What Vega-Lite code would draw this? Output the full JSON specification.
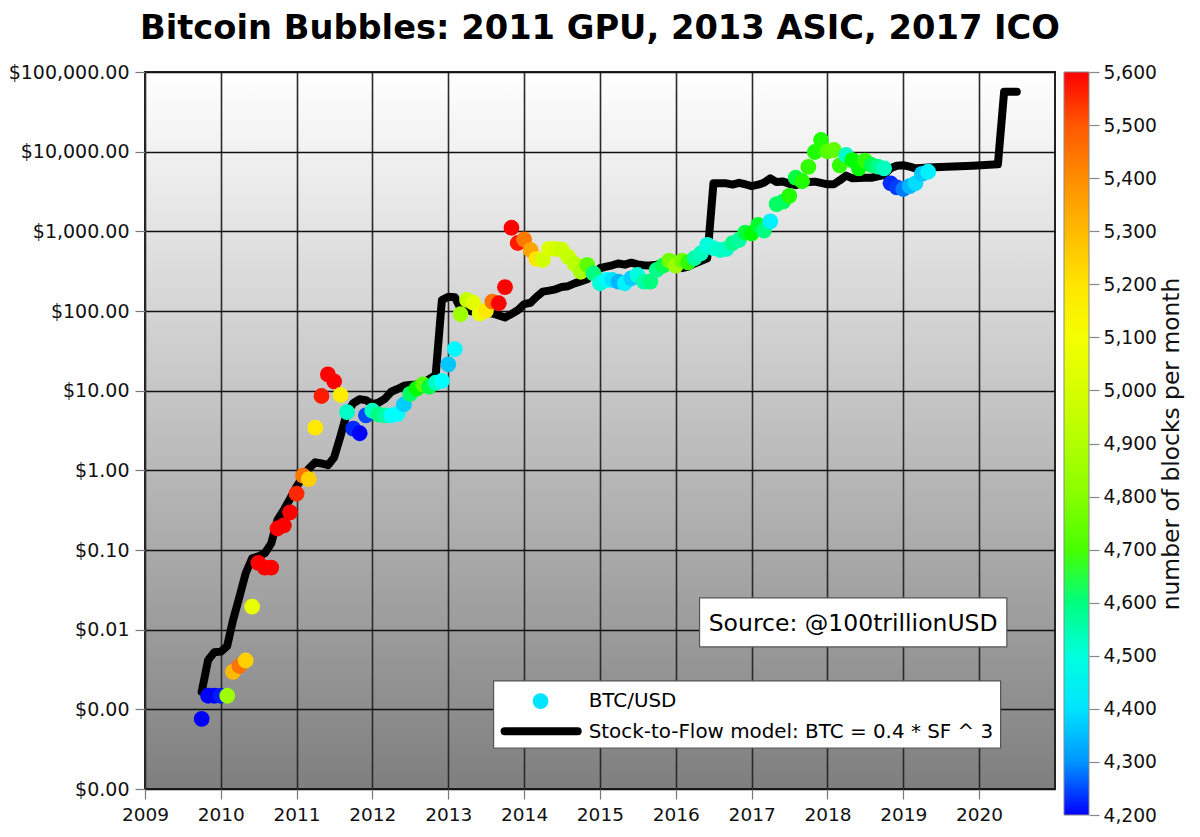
{
  "$schema": "https://vega.github.io/schema/vega-lite/v6.json",
  "description": "Bitcoin price against the stock-to-flow model, coloured by blocks per month.",
  "width": 910,
  "height": 717,
  "autosize": {"type": "none"},
  "padding": {"left": 145, "top": 72, "right": 145, "bottom": 48},
  "background": "white",
  "view": {
    "stroke": "#222222",
    "strokeWidth": 2,
    "fill": {
      "gradient": "linear",
      "x1": 0, "y1": 0, "x2": 0, "y2": 1,
      "stops": [
        {"offset": 0, "color": "#ffffff"},
        {"offset": 1, "color": "#7f7f7f"}
      ]
    }
  },
  "config": {
    "font": "DejaVu Sans",
    "text": {"font": "DejaVu Sans"}
  },
  "title": {
    "text": "Bitcoin Bubbles: 2011 GPU, 2013 ASIC, 2017 ICO",
    "font": "DejaVu Sans",
    "fontSize": 33.7,
    "fontWeight": "bold",
    "color": "#000000",
    "anchor": "middle",
    "offset": 17
  },
  "datasets": {
    "btc": [
      {"date": "2009-10-01", "price": 0.00076, "blocks": 4200},
      {"date": "2009-11-01", "price": 0.00148, "blocks": 4200},
      {"date": "2009-12-01", "price": 0.00148, "blocks": 4200},
      {"date": "2010-01-01", "price": 0.00148, "blocks": 4205},
      {"date": "2010-02-01", "price": 0.00148, "blocks": 4850},
      {"date": "2010-03-01", "price": 0.00295, "blocks": 5300},
      {"date": "2010-04-01", "price": 0.0035, "blocks": 5450},
      {"date": "2010-05-01", "price": 0.0041, "blocks": 5250},
      {"date": "2010-06-01", "price": 0.0195, "blocks": 5060},
      {"date": "2010-07-01", "price": 0.069, "blocks": 5590},
      {"date": "2010-08-01", "price": 0.06, "blocks": 5590},
      {"date": "2010-09-01", "price": 0.06, "blocks": 5590},
      {"date": "2010-10-01", "price": 0.186, "blocks": 5590},
      {"date": "2010-11-01", "price": 0.204, "blocks": 5590},
      {"date": "2010-12-01", "price": 0.297, "blocks": 5580},
      {"date": "2011-01-01", "price": 0.51, "blocks": 5560},
      {"date": "2011-02-01", "price": 0.857, "blocks": 5450},
      {"date": "2011-03-01", "price": 0.775, "blocks": 5250},
      {"date": "2011-04-01", "price": 3.43, "blocks": 5190},
      {"date": "2011-05-01", "price": 8.57, "blocks": 5570},
      {"date": "2011-06-01", "price": 16, "blocks": 5590},
      {"date": "2011-07-01", "price": 13.1, "blocks": 5590},
      {"date": "2011-08-01", "price": 8.83, "blocks": 5180},
      {"date": "2011-09-01", "price": 5.37, "blocks": 4530},
      {"date": "2011-10-01", "price": 3.33, "blocks": 4210},
      {"date": "2011-11-01", "price": 2.92, "blocks": 4200},
      {"date": "2011-12-01", "price": 4.9, "blocks": 4230},
      {"date": "2012-01-01", "price": 5.6, "blocks": 4540},
      {"date": "2012-02-01", "price": 5.0, "blocks": 4600},
      {"date": "2012-03-01", "price": 4.9, "blocks": 4570},
      {"date": "2012-04-01", "price": 4.9, "blocks": 4450},
      {"date": "2012-05-01", "price": 5.1, "blocks": 4440},
      {"date": "2012-06-01", "price": 6.7, "blocks": 4370},
      {"date": "2012-07-01", "price": 9.1, "blocks": 4620},
      {"date": "2012-08-01", "price": 10.6, "blocks": 4660},
      {"date": "2012-09-01", "price": 12, "blocks": 4720},
      {"date": "2012-10-01", "price": 11.2, "blocks": 4640},
      {"date": "2012-11-01", "price": 12.6, "blocks": 4540},
      {"date": "2012-12-01", "price": 13.3, "blocks": 4440},
      {"date": "2013-01-01", "price": 21.4, "blocks": 4360},
      {"date": "2013-02-01", "price": 33.3, "blocks": 4430},
      {"date": "2013-03-01", "price": 91, "blocks": 4850},
      {"date": "2013-04-01", "price": 138, "blocks": 4950},
      {"date": "2013-05-01", "price": 127, "blocks": 5040},
      {"date": "2013-06-01", "price": 93, "blocks": 5070},
      {"date": "2013-07-01", "price": 101, "blocks": 5190},
      {"date": "2013-08-01", "price": 131, "blocks": 5450},
      {"date": "2013-09-01", "price": 125, "blocks": 5590},
      {"date": "2013-10-01", "price": 199, "blocks": 5590},
      {"date": "2013-11-01", "price": 1110, "blocks": 5590},
      {"date": "2013-12-01", "price": 714, "blocks": 5570},
      {"date": "2014-01-01", "price": 794, "blocks": 5440},
      {"date": "2014-02-01", "price": 583, "blocks": 5350},
      {"date": "2014-03-01", "price": 450, "blocks": 5200},
      {"date": "2014-04-01", "price": 437, "blocks": 4990},
      {"date": "2014-05-01", "price": 603, "blocks": 5020},
      {"date": "2014-06-01", "price": 603, "blocks": 5000},
      {"date": "2014-07-01", "price": 589, "blocks": 4970},
      {"date": "2014-08-01", "price": 481, "blocks": 4960},
      {"date": "2014-09-01", "price": 389, "blocks": 4920},
      {"date": "2014-10-01", "price": 311, "blocks": 4880},
      {"date": "2014-11-01", "price": 380, "blocks": 4730},
      {"date": "2014-12-01", "price": 297, "blocks": 4600},
      {"date": "2015-01-01", "price": 223, "blocks": 4510},
      {"date": "2015-02-01", "price": 245, "blocks": 4450},
      {"date": "2015-03-01", "price": 245, "blocks": 4400},
      {"date": "2015-04-01", "price": 234, "blocks": 4340},
      {"date": "2015-05-01", "price": 223, "blocks": 4420},
      {"date": "2015-06-01", "price": 257, "blocks": 4370},
      {"date": "2015-07-01", "price": 283, "blocks": 4500},
      {"date": "2015-08-01", "price": 234, "blocks": 4560},
      {"date": "2015-09-01", "price": 234, "blocks": 4600},
      {"date": "2015-10-01", "price": 327, "blocks": 4590},
      {"date": "2015-11-01", "price": 372, "blocks": 4630},
      {"date": "2015-12-01", "price": 428, "blocks": 4760},
      {"date": "2016-01-01", "price": 371, "blocks": 4850},
      {"date": "2016-02-01", "price": 428, "blocks": 4760},
      {"date": "2016-03-01", "price": 407, "blocks": 4680},
      {"date": "2016-04-01", "price": 459, "blocks": 4570},
      {"date": "2016-05-01", "price": 530, "blocks": 4540},
      {"date": "2016-06-01", "price": 676, "blocks": 4500},
      {"date": "2016-07-01", "price": 617, "blocks": 4510},
      {"date": "2016-08-01", "price": 583, "blocks": 4530},
      {"date": "2016-09-01", "price": 600, "blocks": 4530},
      {"date": "2016-10-01", "price": 708, "blocks": 4590},
      {"date": "2016-11-01", "price": 778, "blocks": 4570},
      {"date": "2016-12-01", "price": 962, "blocks": 4640},
      {"date": "2017-01-01", "price": 944, "blocks": 4660},
      {"date": "2017-02-01", "price": 1200, "blocks": 4650},
      {"date": "2017-03-01", "price": 1020, "blocks": 4600},
      {"date": "2017-04-01", "price": 1337, "blocks": 4420},
      {"date": "2017-05-01", "price": 2200, "blocks": 4620},
      {"date": "2017-06-01", "price": 2355, "blocks": 4620},
      {"date": "2017-07-01", "price": 2780, "blocks": 4670},
      {"date": "2017-08-01", "price": 4710, "blocks": 4640},
      {"date": "2017-09-01", "price": 4250, "blocks": 4670},
      {"date": "2017-10-01", "price": 6430, "blocks": 4680},
      {"date": "2017-11-01", "price": 9910, "blocks": 4670},
      {"date": "2017-12-01", "price": 14000, "blocks": 4670},
      {"date": "2018-01-01", "price": 10100, "blocks": 4720},
      {"date": "2018-02-01", "price": 10500, "blocks": 4730},
      {"date": "2018-03-01", "price": 6745, "blocks": 4680},
      {"date": "2018-04-01", "price": 9080, "blocks": 4530},
      {"date": "2018-05-01", "price": 7850, "blocks": 4660},
      {"date": "2018-06-01", "price": 6180, "blocks": 4660},
      {"date": "2018-07-01", "price": 7700, "blocks": 4680},
      {"date": "2018-08-01", "price": 6800, "blocks": 4630},
      {"date": "2018-09-01", "price": 6490, "blocks": 4590},
      {"date": "2018-10-01", "price": 6180, "blocks": 4540},
      {"date": "2018-11-01", "price": 4010, "blocks": 4210},
      {"date": "2018-12-01", "price": 3570, "blocks": 4220},
      {"date": "2019-01-01", "price": 3400, "blocks": 4270},
      {"date": "2019-02-01", "price": 3700, "blocks": 4340},
      {"date": "2019-03-01", "price": 4010, "blocks": 4390},
      {"date": "2019-04-01", "price": 5250, "blocks": 4360},
      {"date": "2019-05-01", "price": 5600, "blocks": 4420}
    ],
    "model": [
      {"date": "2009-10-01", "price": 0.00166},
      {"date": "2009-11-01", "price": 0.00417},
      {"date": "2009-12-01", "price": 0.0052},
      {"date": "2010-01-01", "price": 0.0053},
      {"date": "2010-02-01", "price": 0.00624},
      {"date": "2010-03-01", "price": 0.0132},
      {"date": "2010-04-01", "price": 0.0259},
      {"date": "2010-05-01", "price": 0.051},
      {"date": "2010-06-01", "price": 0.0787},
      {"date": "2010-07-01", "price": 0.083},
      {"date": "2010-08-01", "price": 0.091},
      {"date": "2010-09-01", "price": 0.121},
      {"date": "2010-10-01", "price": 0.238},
      {"date": "2010-11-01", "price": 0.32},
      {"date": "2010-12-01", "price": 0.44},
      {"date": "2011-01-01", "price": 0.624},
      {"date": "2011-02-01", "price": 0.83},
      {"date": "2011-03-01", "price": 1.05},
      {"date": "2011-04-01", "price": 1.26},
      {"date": "2011-05-01", "price": 1.22},
      {"date": "2011-06-01", "price": 1.16},
      {"date": "2011-07-01", "price": 1.45},
      {"date": "2011-08-01", "price": 2.7},
      {"date": "2011-09-01", "price": 5.3},
      {"date": "2011-10-01", "price": 6.95},
      {"date": "2011-11-01", "price": 7.8},
      {"date": "2011-12-01", "price": 7.6},
      {"date": "2012-01-01", "price": 6.76},
      {"date": "2012-02-01", "price": 7.1},
      {"date": "2012-03-01", "price": 7.9},
      {"date": "2012-04-01", "price": 9.7},
      {"date": "2012-05-01", "price": 10.5},
      {"date": "2012-06-01", "price": 11.5},
      {"date": "2012-07-01", "price": 11.8},
      {"date": "2012-08-01", "price": 12},
      {"date": "2012-09-01", "price": 12.5},
      {"date": "2012-10-01", "price": 14},
      {"date": "2012-11-01", "price": 15.7},
      {"date": "2012-12-01", "price": 137},
      {"date": "2013-01-01", "price": 151},
      {"date": "2013-02-01", "price": 149},
      {"date": "2013-03-01", "price": 108},
      {"date": "2013-04-01", "price": 102},
      {"date": "2013-05-01", "price": 98},
      {"date": "2013-06-01", "price": 96},
      {"date": "2013-07-01", "price": 95},
      {"date": "2013-08-01", "price": 93},
      {"date": "2013-09-01", "price": 88},
      {"date": "2013-10-01", "price": 83},
      {"date": "2013-11-01", "price": 92},
      {"date": "2013-12-01", "price": 102},
      {"date": "2014-01-01", "price": 122},
      {"date": "2014-02-01", "price": 127},
      {"date": "2014-03-01", "price": 150},
      {"date": "2014-04-01", "price": 175},
      {"date": "2014-05-01", "price": 180},
      {"date": "2014-06-01", "price": 187},
      {"date": "2014-07-01", "price": 200},
      {"date": "2014-08-01", "price": 205},
      {"date": "2014-09-01", "price": 222},
      {"date": "2014-10-01", "price": 235},
      {"date": "2014-11-01", "price": 250},
      {"date": "2014-12-01", "price": 295},
      {"date": "2015-01-01", "price": 344},
      {"date": "2015-02-01", "price": 360},
      {"date": "2015-03-01", "price": 375},
      {"date": "2015-04-01", "price": 395},
      {"date": "2015-05-01", "price": 382},
      {"date": "2015-06-01", "price": 404},
      {"date": "2015-07-01", "price": 385},
      {"date": "2015-08-01", "price": 375},
      {"date": "2015-09-01", "price": 372},
      {"date": "2015-10-01", "price": 380},
      {"date": "2015-11-01", "price": 392},
      {"date": "2015-12-01", "price": 398},
      {"date": "2016-01-01", "price": 380},
      {"date": "2016-02-01", "price": 345},
      {"date": "2016-03-01", "price": 360},
      {"date": "2016-04-01", "price": 395},
      {"date": "2016-05-01", "price": 425},
      {"date": "2016-06-01", "price": 459},
      {"date": "2016-07-01", "price": 4010},
      {"date": "2016-08-01", "price": 4010},
      {"date": "2016-09-01", "price": 4000},
      {"date": "2016-10-01", "price": 3860},
      {"date": "2016-11-01", "price": 4060},
      {"date": "2016-12-01", "price": 3900},
      {"date": "2017-01-01", "price": 3700},
      {"date": "2017-02-01", "price": 3850},
      {"date": "2017-03-01", "price": 4080},
      {"date": "2017-04-01", "price": 4630},
      {"date": "2017-05-01", "price": 4150},
      {"date": "2017-06-01", "price": 4230},
      {"date": "2017-07-01", "price": 3950},
      {"date": "2017-08-01", "price": 3800},
      {"date": "2017-09-01", "price": 4000},
      {"date": "2017-10-01", "price": 4150},
      {"date": "2017-11-01", "price": 4200},
      {"date": "2017-12-01", "price": 4050},
      {"date": "2018-01-01", "price": 3890},
      {"date": "2018-02-01", "price": 3900},
      {"date": "2018-03-01", "price": 4350},
      {"date": "2018-04-01", "price": 5010},
      {"date": "2018-05-01", "price": 4630},
      {"date": "2018-06-01", "price": 4680},
      {"date": "2018-07-01", "price": 4700},
      {"date": "2018-08-01", "price": 4710},
      {"date": "2018-09-01", "price": 4900},
      {"date": "2018-10-01", "price": 5090},
      {"date": "2018-11-01", "price": 6200},
      {"date": "2018-12-01", "price": 6670},
      {"date": "2019-01-01", "price": 6760},
      {"date": "2019-02-01", "price": 6500},
      {"date": "2019-03-01", "price": 6180},
      {"date": "2019-04-01", "price": 6250},
      {"date": "2019-05-01", "price": 6310},
      {"date": "2019-12-01", "price": 6650},
      {"date": "2020-04-01", "price": 6930},
      {"date": "2020-05-01", "price": 56600},
      {"date": "2020-07-01", "price": 56600}
    ],
    "boxes": [
      {"date": "2016-04-25", "end": "2020-05-14", "price": 0.025, "low": 0.00607},
      {"date": "2013-08-07", "end": "2020-04-14", "price": 0.00227, "low": 0.000327}
    ],
    "labels": [
      {"date": "2016-06-08", "price": 0.0118, "label": "Source: @100trillionUSD", "kind": "source"},
      {"date": "2014-11-08", "price": 0.00127, "label": "BTC/USD", "kind": "legend"},
      {"date": "2014-11-08", "price": 0.00052, "label": "Stock-to-Flow model: BTC = 0.4 * SF ^ 3", "kind": "legend"}
    ],
    "keyLine": [
      {"date": "2013-09-29", "price": 0.00053},
      {"date": "2014-09-16", "price": 0.00053}
    ],
    "keyDot": [
      {"date": "2014-03-21", "price": 0.00127}
    ]
  },
  "encoding": {
    "x": {
      "field": "date",
      "type": "temporal",
      "scale": {
        "domain": [
          {"year": 2009, "month": 1, "date": 1},
          {"year": 2021, "month": 1, "date": 1}
        ]
      },
      "axis": {
        "title": null,
        "format": "%Y",
        "values": [
          {"year": 2009, "month": 1, "date": 1},
          {"year": 2010, "month": 1, "date": 1},
          {"year": 2011, "month": 1, "date": 1},
          {"year": 2012, "month": 1, "date": 1},
          {"year": 2013, "month": 1, "date": 1},
          {"year": 2014, "month": 1, "date": 1},
          {"year": 2015, "month": 1, "date": 1},
          {"year": 2016, "month": 1, "date": 1},
          {"year": 2017, "month": 1, "date": 1},
          {"year": 2018, "month": 1, "date": 1},
          {"year": 2019, "month": 1, "date": 1},
          {"year": 2020, "month": 1, "date": 1}
        ],
        "grid": true,
        "gridColor": "#2a2a2a",
        "gridWidth": 1.6,
        "gridOpacity": 1,
        "domain": false,
        "tickColor": "#777777",
        "tickSize": 10,
        "tickWidth": 1.2,
        "labelFontSize": 18.5,
        "labelColor": "#111111",
        "labelPadding": 6,
        "labelFlush": false,
        "labelOverlap": false
      }
    }
  },
  "layer": [
    {
      "encoding": {
        "y": {
          "field": "price",
          "type": "quantitative",
          "scale": {"type": "log", "domain": [0.0001, 100000], "nice": false},
          "axis": {
            "title": null,
            "format": "$,.2f",
            "values": [0.0001, 0.001, 0.01, 0.1, 1, 10, 100, 1000, 10000, 100000],
            "grid": true,
            "gridColor": "#111111",
            "gridWidth": 1.4,
            "gridOpacity": 1,
            "domain": false,
            "tickColor": "#777777",
            "tickSize": 10,
            "tickWidth": 1.2,
            "labelFontSize": 19,
            "labelColor": "#111111",
            "labelPadding": 6,
            "labelFlush": false,
            "labelOverlap": false
          }
        }
      },
      "layer": [
        {
          "data": {"name": "model"},
          "mark": {"type": "line", "color": "#000000", "strokeWidth": 8, "strokeJoin": "round", "strokeCap": "round"}
        },
        {
          "data": {"name": "btc"},
          "mark": {"type": "circle", "size": 250, "opacity": 1},
          "encoding": {
            "color": {
              "field": "blocks",
              "type": "quantitative",
              "scale": {
                "domain": [4200, 4440, 4660, 5136, 5580, 5600],
                "range": ["#0000ff", "#00ffff", "#00ff00", "#ffff00", "#ff0000", "#ff0000"]
              },
              "legend": {
                "title": null,
                "orient": "none",
                "direction": "vertical",
                "legendX": 919,
                "legendY": 0,
                "padding": 0,
                "gradientLength": 743,
                "gradientThickness": 25,
                "gradientStrokeColor": "#888888",
                "gradientStrokeWidth": 1,
                "labelOpacity": 0,
                "labelFontSize": 1,
                "values": [4200, 5600]
              }
            }
          }
        },
        {
          "data": {"name": "boxes"},
          "mark": {"type": "rect", "fill": "#ffffff", "stroke": "#555555", "strokeWidth": 1.2},
          "encoding": {
            "x2": {"field": "end"},
            "y2": {"field": "low"}
          }
        },
        {
          "data": {"name": "keyLine"},
          "mark": {"type": "line", "color": "#000000", "strokeWidth": 8, "strokeCap": "round"}
        },
        {
          "data": {"name": "keyDot"},
          "mark": {"type": "circle", "size": 250, "color": "#00e5ff", "opacity": 1}
        },
        {
          "data": {"name": "labels"},
          "transform": [{"filter": "datum.kind === 'legend'"}],
          "mark": {"type": "text", "align": "left", "baseline": "middle", "fontSize": 19.9, "color": "#000000"},
          "encoding": {"text": {"field": "label"}}
        },
        {
          "data": {"name": "labels"},
          "transform": [{"filter": "datum.kind === 'source'"}],
          "mark": {"type": "text", "align": "left", "baseline": "middle", "fontSize": 23.5, "color": "#000000"},
          "encoding": {"text": {"field": "label"}}
        }
      ]
    },
    {
      "data": {"name": "btc"},
      "mark": {"type": "point", "opacity": 0},
      "encoding": {
        "y": {
          "field": "blocks",
          "type": "quantitative",
          "scale": {"domain": [4200, 5600], "range": [743, 0], "nice": false, "zero": false},
          "axis": {
            "orient": "right",
            "offset": 34,
            "title": "number of blocks per month",
            "titleFontSize": 23.4,
            "titleFontWeight": "normal",
            "titleColor": "#111111",
            "titleAngle": -90,
            "titleBaseline": "bottom",
            "titlePadding": 27,
            "format": ",d",
            "values": [4200, 4300, 4400, 4500, 4600, 4700, 4800, 4900, 5000, 5100, 5200, 5300, 5400, 5500, 5600],
            "grid": false,
            "domain": false,
            "tickColor": "#888888",
            "tickSize": 10,
            "tickWidth": 1.2,
            "labelFontSize": 18.7,
            "labelColor": "#111111",
            "labelPadding": 4,
            "labelFlush": false,
            "labelOverlap": false
          }
        }
      }
    }
  ],
  "resolve": {"scale": {"y": "independent", "color": "independent"}, "axis": {"y": "independent"}}
}
